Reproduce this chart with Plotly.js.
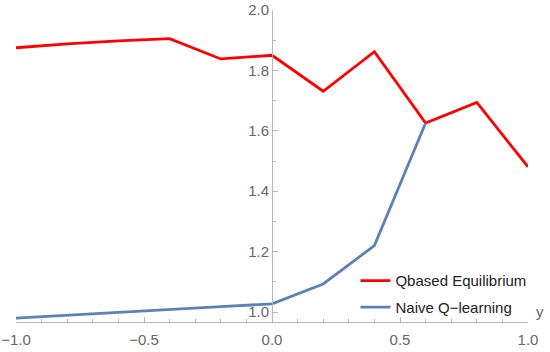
<!DOCTYPE html>
<html>
<head>
<meta charset="utf-8">
<script src="https://cdn.plot.ly/plotly-3.0.1.min.js"></script>
<style>
  html, body { margin: 0; padding: 0; background: #fff; }
  #chart { width: 550px; height: 352px; }
</style>
</head>
<body>
<div id="chart"></div>
<script>
var xs_eq = [-1.0, -0.8, -0.6, -0.4, -0.2, 0.0, 0.2, 0.4, 0.6, 0.8, 1.0];
var eq_vals = [1.875, 1.888, 1.898, 1.905, 1.838, 1.850, 1.731, 1.862, 1.626, 1.694, 1.481];

var xs_naive = [-1.0, -0.8, -0.6, -0.4, -0.2, 0.0, 0.2, 0.4, 0.6];
var naive_vals = [0.980, 0.990, 0.999, 1.008, 1.018, 1.027, 1.093, 1.220, 1.626];

var axis_col = "#b8b8b8";
var label_col = "#666666";

var eq = {
	mode: "lines",
	x: xs_eq,
	y: eq_vals,
	name: "Qbased Equilibrium",
	legendgroup: "a",
	line: { color: "#ff0000", width: 2.8 }
};

var naive = {
	mode: "lines",
	x: xs_naive,
	y: naive_vals,
	name: "Naive Q\u2212learning",
	legendgroup: "b",
	line: { color: "#5e81b5", width: 2.8 }
};

var layout = {
	width: 550,
	height: 352,
	margin: { l: 16, r: 22, t: 10, b: 30 },
	paper_bgcolor: "#fff",
	plot_bgcolor: "#fff",
	font: { family: "Liberation Sans, Arial, sans-serif", size: 15, color: label_col },
	showlegend: true,
	legend: {
		x: 0.663, y: 0.185, xanchor: "left", yanchor: "top",
		font: { size: 15, color: "#222" },
		bgcolor: "rgba(0,0,0,0)",
		traceorder: "grouped",
		tracegroupgap: 4
	},
	xaxis: {
		range: [-1, 1],
		showgrid: false,
		zeroline: false,
		showline: true,
		linecolor: axis_col,
		linewidth: 1,
		ticks: "inside",
		ticklen: 5,
		tickcolor: axis_col,
		tick0: -1,
		dtick: 0.5,
		tickformat: ".1f",
		ticklabelstandoff: 4,
		minor: { ticks: "inside", dtick: 0.1, ticklen: 3, tickcolor: axis_col },
		tickfont: { size: 15, color: label_col }
	},
	yaxis: {
		range: [0.967, 2.0],
		showgrid: false,
		zeroline: false,
		showline: true,
		linecolor: axis_col,
		linewidth: 1,
		anchor: "free",
		position: 0.5,
		ticks: "inside",
		ticklen: 5,
		tickcolor: axis_col,
		tick0: 1.0,
		dtick: 0.2,
		tickformat: ".1f",
		minor: { ticks: "inside", dtick: 0.1, ticklen: 3, tickcolor: axis_col },
		tickfont: { size: 15, color: label_col }
	},
	annotations: [{
		text: "y",
		xref: "paper", yref: "paper",
		x: 1, y: 0,
		xanchor: "left", yanchor: "bottom",
		xshift: 6, yshift: 0,
		showarrow: false,
		font: { size: 15, color: label_col }
	}]
};

Plotly.newPlot("chart", [eq, naive], layout, { displayModeBar: false, staticPlot: true });
</script>
</body>
</html>
